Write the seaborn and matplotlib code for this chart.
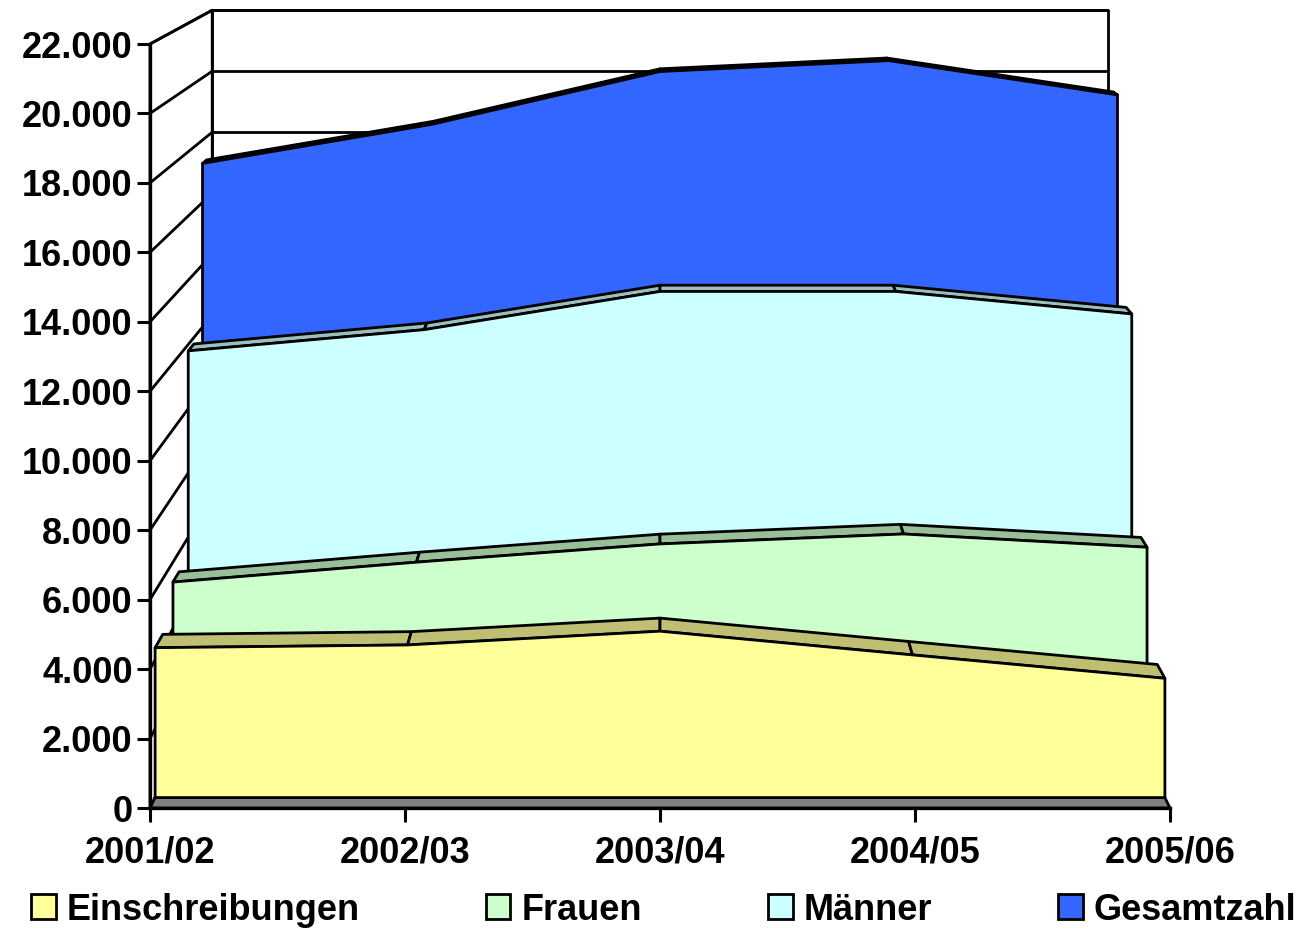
import numpy as np
import matplotlib
matplotlib.use("Agg")
import matplotlib.pyplot as plt
import seaborn as sns
from matplotlib.patches import Polygon, Patch
from matplotlib.ticker import FuncFormatter

# ---------------- data ----------------
categories = ["2001/02", "2002/03", "2003/04", "2004/05", "2005/06"]
einschreibungen = [4360, 4440, 4840, 4150, 3470]
frauen = [5400, 6000, 6550, 6850, 6450]
maenner = [11800, 12460, 13650, 13650, 12950]
gesamtzahl = [17250, 18500, 20200, 20550, 19450]
series_names = ["Einschreibungen", "Frauen", "Männer", "Gesamtzahl"]
y_ticks = list(range(0, 22001, 2000))

# ---------------- style ----------------
sns.set_theme(style="white")
plt.rcParams['font.family'] = ['Liberation Sans', 'DejaVu Sans']
plt.rcParams['text.color'] = 'black'

front_colors = ["#FFFF99", "#CCFFCC", "#CCFFFF", "#3366FF"]
top_colors = ["#BFBF73", "#99BF99", "#99BFBF", "#264CBF"]
# (front depth scale, back depth scale) for each series, front to back
depths = [(0.990, 0.975), (0.955, 0.943), (0.925, 0.914), (0.897, 0.889)]
S_WALL = 0.878
VP = np.array([0.5, 1.3626])   # vanishing point, axes coords
LW = 2.0
FS = 26

W, H = 1310, 932
fig = plt.figure(figsize=(W / 100, H / 100), dpi=100)
fig.patch.set_facecolor("white")
ax = fig.add_axes([150 / W, (H - 808) / H, 1020 / W, 764 / H])
ax.set_xlim(0, len(categories) - 1)
ax.set_ylim(0, 22000)
ax.patch.set_visible(False)
ax.grid(False)

xs = np.arange(len(categories), dtype=float)


def to_axes(x, y, s):
    pts = ax.transLimits.transform(np.column_stack([np.atleast_1d(x), np.atleast_1d(y)]).astype(float))
    return VP + s * (pts - VP)


def poly(pts, fc, z, ec="black", lw=LW):
    ax.add_patch(Polygon(pts, closed=True, transform=ax.transAxes, facecolor=fc,
                         edgecolor=ec, linewidth=lw, clip_on=False, zorder=z,
                         joinstyle="round"))


def line(pts, z, lw=LW):
    ax.plot(pts[:, 0], pts[:, 1], transform=ax.transAxes, color="black", lw=lw,
            clip_on=False, zorder=z, solid_capstyle="butt")


x0, x1 = xs[0], xs[-1]
ymax = y_ticks[-1]

# back wall
wall = np.vstack([to_axes([x0, x1, x1, x0], [0, 0, ymax, ymax], S_WALL)])
poly(wall, "white", 1)
# left side wall
side = np.vstack([to_axes([x0, x0], [0, ymax], 1.0), to_axes([x0, x0], [ymax, 0], S_WALL)])
poly(side, "white", 1)
# gridlines
for v in y_ticks:
    line(to_axes([x0, x1], [v, v], S_WALL), 2)
    line(np.vstack([to_axes(x0, v, 1.0), to_axes(x0, v, S_WALL)]), 2)
# floor
floor = np.vstack([to_axes([x0, x1], [0, 0], 1.0), to_axes([x1, x0], [0, 0], S_WALL)])
poly(floor, "#808080", 3)

# series, back to front
all_series = [einschreibungen, frauen, maenner, gesamtzahl]
z = 10
for idx in [3, 2, 1, 0]:
    vals = np.array(all_series[idx], dtype=float)
    sf, sb = depths[idx]
    ff = to_axes(xs, vals, sf)
    bb = to_axes(xs, vals, sb)
    for i in range(len(xs) - 1):
        quad = np.vstack([ff[i], ff[i + 1], bb[i + 1], bb[i]])
        poly(quad, top_colors[idx], z)
    z += 1
    front = np.vstack([to_axes(xs, vals, sf), to_axes(xs[::-1], np.zeros(len(xs)), sf)])
    poly(front, front_colors[idx], z)
    z += 1

# axes, ticks, labels
for sp in ["top", "right"]:
    ax.spines[sp].set_visible(False)
for sp in ["left", "bottom"]:
    ax.spines[sp].set_visible(True)
    ax.spines[sp].set_color("black")
    ax.spines[sp].set_linewidth(LW + 0.4)
    ax.spines[sp].set_zorder(50)

ax.set_yticks(y_ticks)
ax.yaxis.set_major_formatter(FuncFormatter(lambda v, p: f"{int(v):,}".replace(",", ".")))
ax.set_xticks(xs)
ax.set_xticklabels(categories)
ax.tick_params(axis="y", left=True, direction="out", length=9.5, width=LW + 0.2,
               color="black", pad=3, labelsize=FS, labelcolor="black")
ax.tick_params(axis="x", bottom=True, direction="out", length=10, width=LW + 0.2,
               color="black", pad=10, labelsize=FS, labelcolor="black")
for lab in ax.get_xticklabels() + ax.get_yticklabels():
    lab.set_fontweight("bold")

handles = [Patch(facecolor=c, edgecolor="black", linewidth=LW) for c in front_colors]
leg = fig.legend(handles, series_names, loc="center left", bbox_to_anchor=(31 / W, (H - 910) / H),
                 ncol=4, frameon=False, handlelength=0.68, handleheight=0.68,
                 handletextpad=0.3, columnspacing=3.5, borderaxespad=0, borderpad=0,
                 prop=dict(weight="bold", size=FS))
for t in leg.get_texts():
    t.set_color("black")

fig.savefig("out.png", dpi=100)
